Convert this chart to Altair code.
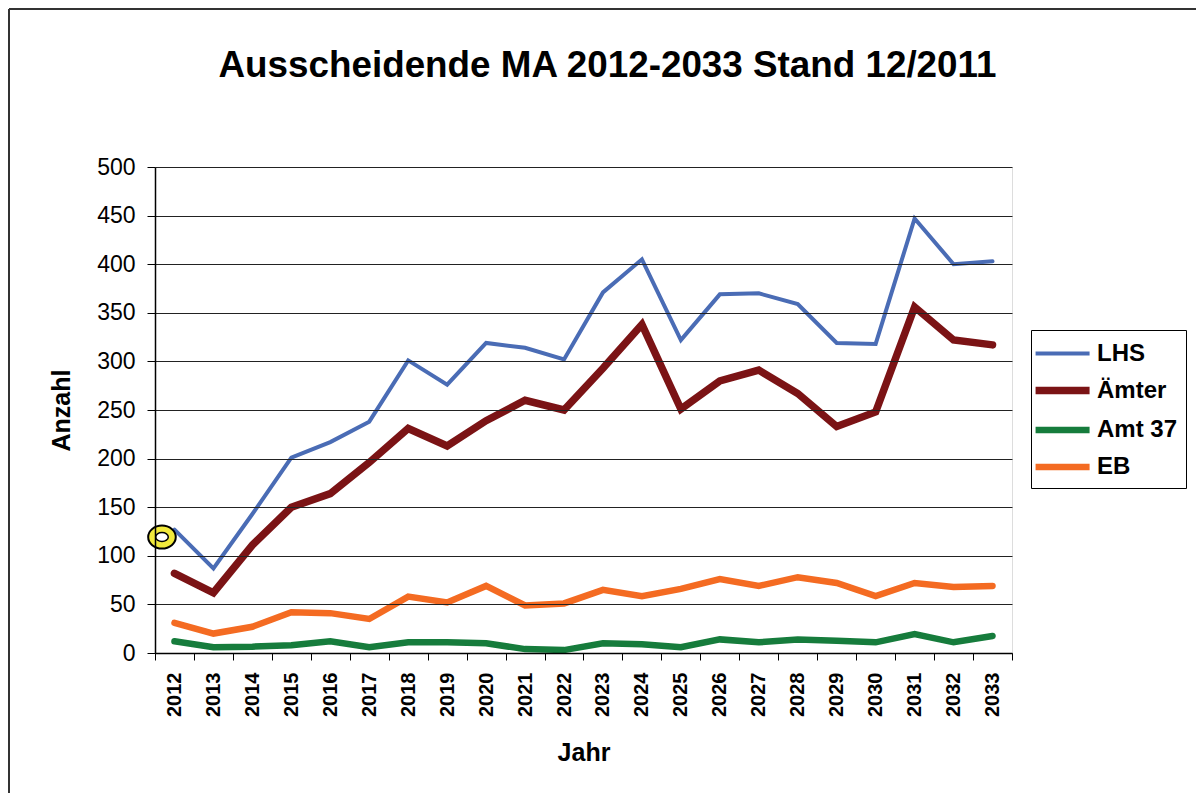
import altair as alt
import pandas as pd

FONT = "Liberation Sans, Arial, sans-serif"

years = ["2012", "2013", "2014", "2015", "2016", "2017", "2018", "2019", "2020", "2021", "2022",
         "2023", "2024", "2025", "2026", "2027", "2028", "2029", "2030", "2031", "2032", "2033"]
lhs = [127, 87, 143, 201, 217, 238, 301, 276, 319, 314, 302,
       371, 405, 322, 369, 370, 359, 319, 318, 447, 400, 403]
aemter = [82, 62, 111, 150, 164, 196, 231, 213, 239, 260, 250,
          293, 338, 251, 280, 291, 267, 233, 248, 356, 322, 317]
amt37 = [12, 6, 6.5, 8, 12, 6, 11, 11, 10, 4, 3,
         10, 9, 6, 14, 11, 14, 12.5, 11, 19.5, 11, 17.5]
eb = [31, 20, 27, 42, 41, 35, 58, 52, 69, 49, 51,
      65, 58.5, 66, 76, 69, 78, 72, 58.5, 72, 68, 69]

series_names = ["LHS", "Ämter", "Amt 37", "EB"]
series_colors = ["#4a6cb5", "#7b1315", "#167c3c", "#f46b22"]
series_widths = [4, 7.5, 6.5, 6.5]

# annotation marker (yellow ring) near the first LHS point
marker_year = ["2012"]
marker_value = [119.3]

rows = []
for name, vals in zip(series_names, [lhs, aemter, amt37, eb]):
    for y, v in zip(years, vals):
        rows.append({"Jahr": y, "Anzahl": v, "Reihe": name})
df = pd.DataFrame(rows)
mdf = pd.DataFrame({"Jahr": marker_year, "Anzahl": marker_value})

W, H = 857, 486

x_enc = alt.X(
    "Jahr:O",
    sort=years,
    scale=alt.Scale(type="band", paddingInner=0, paddingOuter=0),
    axis=alt.Axis(
        title="Jahr",
        labelAngle=-90,
        labelFont=FONT, labelFontSize=20, labelFontWeight="bold", labelColor="black",
        labelPadding=12,
        tickBand="extent", tickSize=7, tickColor="black", tickWidth=1,
        domainColor="black", domainWidth=1.5,
        titleFont=FONT, titleFontSize=25, titleFontWeight="bold", titleColor="black",
        titleX=W / 2, titleY=99, titleBaseline="middle", titleAlign="center",
        grid=False, zindex=1,
    ),
)
y_enc = alt.Y(
    "Anzahl:Q",
    scale=alt.Scale(domain=[0, 500], nice=False),
    axis=alt.Axis(
        title="Anzahl",
        values=list(range(0, 501, 50)),
        labelFont=FONT, labelFontSize=23, labelColor="black", labelPadding=12,
        tickSize=8, tickColor="black", tickWidth=1,
        domainColor="black", domainWidth=1.5,
        grid=True, gridColor="#222222", gridWidth=1,
        titleFont=FONT, titleFontSize=25, titleFontWeight="bold", titleColor="black",
        titleAngle=-90, titleX=-94, titleY=H / 2, titleBaseline="middle", titleAlign="center",
        zindex=1,
    ),
)

leg = alt.Legend(
    title=None, orient="none", legendX=876, legendY=163,
    symbolType="M-1.55,0H2.45", symbolSize=729,
    labelFont=FONT, labelFontSize=24, labelFontWeight="bold", labelColor="black",
    labelOffset=23, rowPadding=7, padding=8,
    strokeColor="black", fillColor="white",
)

lines = alt.Chart(df).mark_line(strokeCap="round", strokeJoin="miter").encode(
    x=x_enc,
    y=y_enc,
    color=alt.Color("Reihe:N", scale=alt.Scale(domain=series_names, range=series_colors),
                    sort=series_names, legend=leg),
    strokeWidth=alt.StrokeWidth("Reihe:N",
                                scale=alt.Scale(type="ordinal", domain=series_names, range=series_widths),
                                sort=series_names, legend=leg),
)

ring_outer = alt.Chart(mdf).mark_point(
    shape="M-1.2,0A1.2,1 0 1,1 1.2,0A1.2,1 0 1,1 -1.2,0Z",
    size=529, filled=True, fill="#f2ea3c", stroke="black", strokeWidth=2,
    opacity=1, xOffset=-12.5,
).encode(x=alt.X("Jahr:O", sort=years), y="Anzahl:Q")

ring_inner = alt.Chart(mdf).mark_point(
    shape="M-1.4,0A1.4,1 0 1,1 1.4,0A1.4,1 0 1,1 -1.4,0Z",
    size=81, filled=True, fill="white", stroke="black", strokeWidth=1.5,
    opacity=1, xOffset=-12.5,
).encode(x=alt.X("Jahr:O", sort=years), y="Anzahl:Q")

one = pd.DataFrame({"k": [0]})
border_left = alt.Chart(one).mark_rule(color="#333333", strokeWidth=2).encode(
    x=alt.value(-146), y=alt.value(-158), y2=alt.value(H + 140)
)
border_top = alt.Chart(one).mark_rule(color="#333333", strokeWidth=2).encode(
    x=alt.value(-146), x2=alt.value(W + 184), y=alt.value(-158)
)

chart = alt.layer(lines, ring_outer, ring_inner, border_left, border_top).properties(
    width=W, height=H,
    autosize=alt.AutoSizeParams(type="none"),
    padding={"left": 147, "top": 159, "right": 184, "bottom": 140},
    title=alt.TitleParams(
        "Ausscheidende MA 2012-2033 Stand 12/2011",
        font=FONT, fontSize=36.8, fontWeight="bold", color="black",
        anchor="middle", frame="group", dx=24, offset=-77,
    ),
).configure_view(
    stroke="#888888", strokeWidth=2
).configure(background="white")

chart.save("out.html", embed_options={"renderer": "svg", "actions": False})
